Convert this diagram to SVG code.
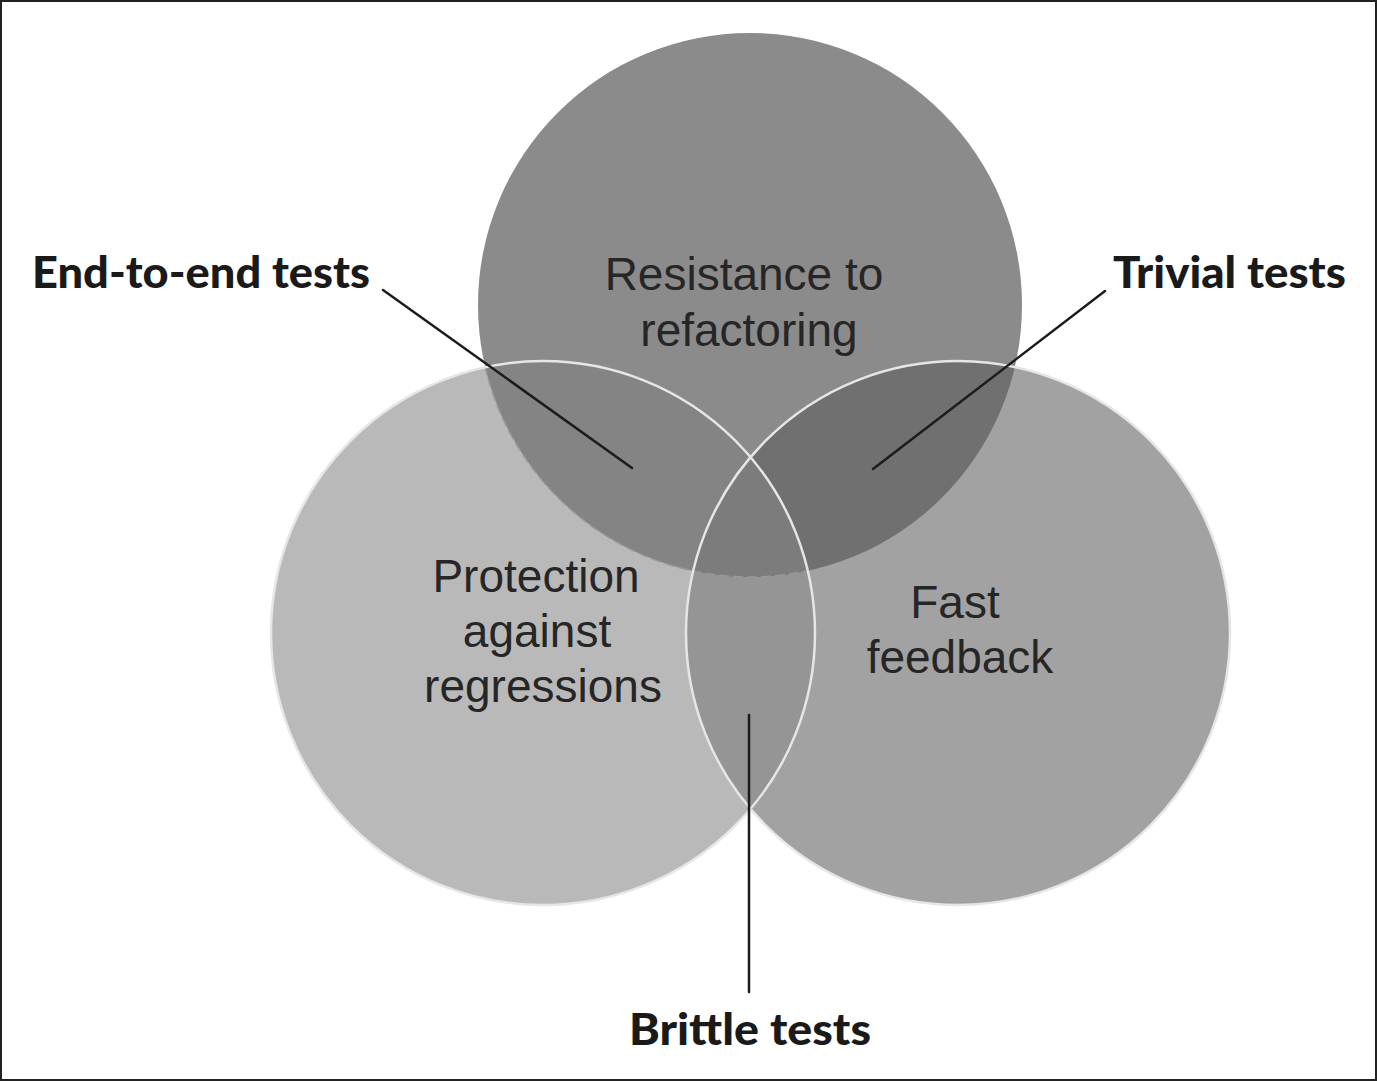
<svg xmlns="http://www.w3.org/2000/svg" width="1377" height="1082" viewBox="0 0 1377 1082">
<style>
.lbl{font-family:"Liberation Sans",Arial,sans-serif;font-size:46px;fill:#262626;text-anchor:middle}
.cat{font-family:Lato,"Open Sans",sans-serif;font-weight:900;font-size:44px;fill:#1a1a1a}
.lead{stroke:#1c1c1c;stroke-width:2.5;fill:none;stroke-linecap:round}
</style>
<defs>
<clipPath id="cL"><circle cx="543" cy="633" r="272"/></clipPath>
<clipPath id="cR"><circle cx="958" cy="633" r="272"/></clipPath>
</defs>
<rect x="0" y="0" width="1377" height="1082" fill="#ffffff"/>
<rect x="1" y="1" width="1375" height="1079" fill="none" stroke="#222222" stroke-width="2"/>
<g id="top-circle">
<circle cx="750" cy="305" r="272" fill="#8b8b8b"/>
</g>
<g id="left-circle">
<circle cx="543" cy="633" r="272" fill="#b9b9b9"/>
</g>
<g id="right-circle">
<circle cx="958" cy="633" r="272" fill="#a2a2a2"/>
</g>
<g id="overlaps">
<circle cx="958" cy="633" r="272" fill="#959595" clip-path="url(#cL)"/>
<circle cx="750" cy="305" r="272" fill="#848484" clip-path="url(#cL)"/>
<circle cx="750" cy="305" r="272" fill="#707070" clip-path="url(#cR)"/>
<g clip-path="url(#cL)"><circle cx="750" cy="305" r="272" fill="#7c7c7c" clip-path="url(#cR)"/></g>
<circle cx="750" cy="305" r="272" fill="none" stroke="#989898" stroke-width="1.5" stroke-dasharray="10 4" clip-path="url(#cL)"/>
<circle cx="543" cy="633" r="272" fill="none" stroke="#e6e6e6" stroke-width="2.5"/>
<circle cx="958" cy="633" r="272" fill="none" stroke="#e6e6e6" stroke-width="2.5"/>
</g>
<g id="circle-labels">
<text class="lbl" x="744" y="290">Resistance to</text>
<text class="lbl" x="749" y="346">refactoring</text>
<text class="lbl" x="536" y="592">Protection</text>
<text class="lbl" x="537" y="647">against</text>
<text class="lbl" x="543" y="702">regressions</text>
<text class="lbl" x="955" y="618">Fast</text>
<text class="lbl" x="960" y="673">feedback</text>
</g>
<g id="connectors">
<line class="lead" x1="383" y1="290" x2="632" y2="468"/>
<line class="lead" x1="1105" y1="291" x2="873" y2="469"/>
<line class="lead" x1="749" y1="715" x2="749" y2="992"/>
</g>
<g id="end-to-end">
<text class="cat" x="32" y="288" textLength="338" lengthAdjust="spacingAndGlyphs">End-to-end tests</text>
</g>
<g id="trivial">
<text class="cat" x="1113" y="288" textLength="233" lengthAdjust="spacingAndGlyphs">Trivial tests</text>
</g>
<g id="brittle">
<text class="cat" x="629" y="1045" textLength="242" lengthAdjust="spacingAndGlyphs">Brittle tests</text>
</g>
</svg>
